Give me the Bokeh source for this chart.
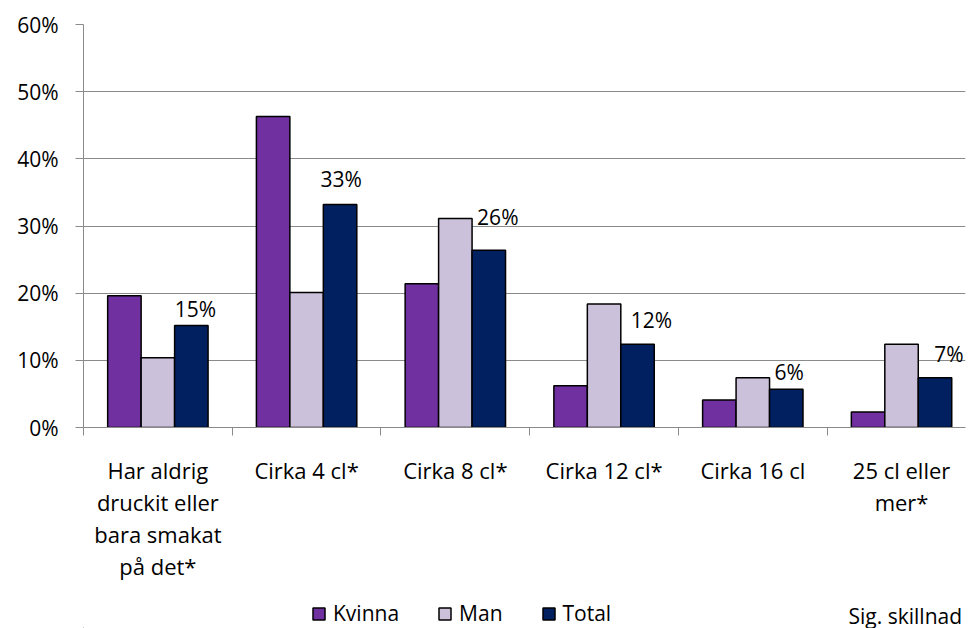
from bokeh.plotting import figure
from bokeh.layouts import column
from bokeh.models import (Range1d, FixedTicker, PrintfTickFormatter, Legend,
                          LegendItem, Label, ColumnDataSource)
from bokeh.core.properties import value
from bokeh.embed import file_html
from bokeh.resources import INLINE

# ---- data ----
categories = ["Har aldrig\ndruckit eller\nbara smakat\npå det*",
              "Cirka 4 cl*", "Cirka 8 cl*", "Cirka 12 cl*", "Cirka 16 cl",
              "25 cl eller\nmer*"]
kvinna = [19.6, 46.3, 21.4, 6.2, 4.1, 2.3]
man = [10.4, 20.1, 31.1, 18.4, 7.4, 12.4]
total = [15.2, 33.2, 26.4, 12.4, 5.7, 7.4]
series_names = ["Kvinna", "Man", "Total"]
y_ticks = [0, 10, 20, 30, 40, 50, 60]
note_text = "Sig. skillnad"

# ---- style ----
FONT = "Open Sans"
COLORS = ["#7030A0", "#CCC1DA", "#002060"]
GRID = "#8A8A8A"
BAR_W = 0.225
label_dx = [4, 1, 9, 14, 3, 14]
label_dy = [-16, -26, -33, -24, -17, -24]

n = len(categories)
centers = [i + 0.5 for i in range(n)]

src = ColumnDataSource(dict(
    xc=centers,
    xk=[c - BAR_W for c in centers],
    xt=[c + BAR_W for c in centers],
    kvinna=kvinna, man=man, total=total,
    lbl=[f"{round(v)}%" for v in total],
    dx=label_dx, dy=label_dy,
))

W = 970
p = figure(width=W, height=590, output_backend="svg", toolbar_location=None,
           x_range=Range1d(0, 5.93), y_range=Range1d(0, 60),
           min_border_left=83, min_border_right=5, min_border_top=24,
           min_border_bottom=163)
p.outline_line_color = None
p.background_fill_color = "white"
p.border_fill_color = "white"

r1 = p.vbar(x="xk", top="kvinna", width=BAR_W, source=src,
            fill_color=COLORS[0], line_color="black", line_width=1.5)
r2 = p.vbar(x="xc", top="man", width=BAR_W, source=src,
            fill_color=COLORS[1], line_color="black", line_width=1.5)
r3 = p.vbar(x="xt", top="total", width=BAR_W, source=src,
            fill_color=COLORS[2], line_color="black", line_width=1.5)

p.text(x="xt", y="total", text="lbl", source=src, x_offset="dx", y_offset="dy",
       text_align="center", text_baseline="middle",
       text_font=value(FONT), text_font_size="21px", text_color="black")

# grid
p.xgrid.visible = False
p.ygrid.grid_line_color = GRID
p.ygrid.grid_line_width = 1
p.ygrid.ticker = FixedTicker(ticks=y_ticks)

# y axis
p.yaxis.ticker = FixedTicker(ticks=y_ticks)
p.yaxis.formatter = PrintfTickFormatter(format="%d%%")
p.yaxis.axis_line_color = GRID
p.yaxis.major_tick_line_color = GRID
p.yaxis.major_tick_out = 8
p.yaxis.major_tick_in = 0
p.yaxis.minor_tick_line_color = None
p.yaxis.major_label_standoff = 17
p.yaxis.major_label_text_font = FONT
p.yaxis.major_label_text_font_size = "21px"
p.yaxis.major_label_text_color = "black"

# x axis
p.xaxis.ticker = FixedTicker(ticks=centers, minor_ticks=list(range(n)))
p.xaxis.major_label_overrides = {c: lab for c, lab in zip(centers, categories)}
p.xaxis.axis_line_color = GRID
p.xaxis.major_tick_line_color = None
p.xaxis.minor_tick_line_color = GRID
p.xaxis.minor_tick_out = 8
p.xaxis.minor_tick_in = 0
p.xaxis.major_label_standoff = 19
p.xaxis.major_label_text_font = FONT
p.xaxis.major_label_text_font_size = "22px"
p.xaxis.major_label_text_color = "black"
p.xaxis.major_label_text_line_height = 1.07
p.xaxis.major_label_text_align = "center"

# legend strip (separate figure below the chart; its frame aligns with the chart's)
lf = figure(width=W, height=38, output_backend="svg", toolbar_location=None,
            x_range=Range1d(0, 100), y_range=Range1d(0, 38),
            x_axis_location=None, y_axis_location=None, min_border=0)
lf.outline_line_color = None
lf.xgrid.visible = False
lf.ygrid.visible = False
# legend proxies, kept far outside the visible range
proxies = [lf.vbar(x=[-5000], top=[-5000], bottom=[-5001], width=1,
                   fill_color=c, line_color="black", line_width=1.5)
           for c in COLORS]
legend = Legend(items=[LegendItem(label=nm, renderers=[rr])
                       for nm, rr in zip(series_names, proxies)],
                orientation="horizontal", location=(228, 1),
                padding=0, margin=0, spacing=38, label_standoff=7,
                glyph_width=15, glyph_height=15, label_height=20,
                border_line_color=None, background_fill_alpha=0,
                label_text_font=FONT, label_text_font_size="21px",
                label_text_color="black")
lf.add_layout(legend, "center")
lf.add_layout(Label(x=765, y=13, x_units="screen", y_units="screen",
                    text=note_text, text_font=FONT, text_font_size="21px",
                    text_baseline="middle", text_align="left", text_color="black"))

layout = column(p, lf, spacing=0)
open("out.html", "w").write(file_html(layout, INLINE))
